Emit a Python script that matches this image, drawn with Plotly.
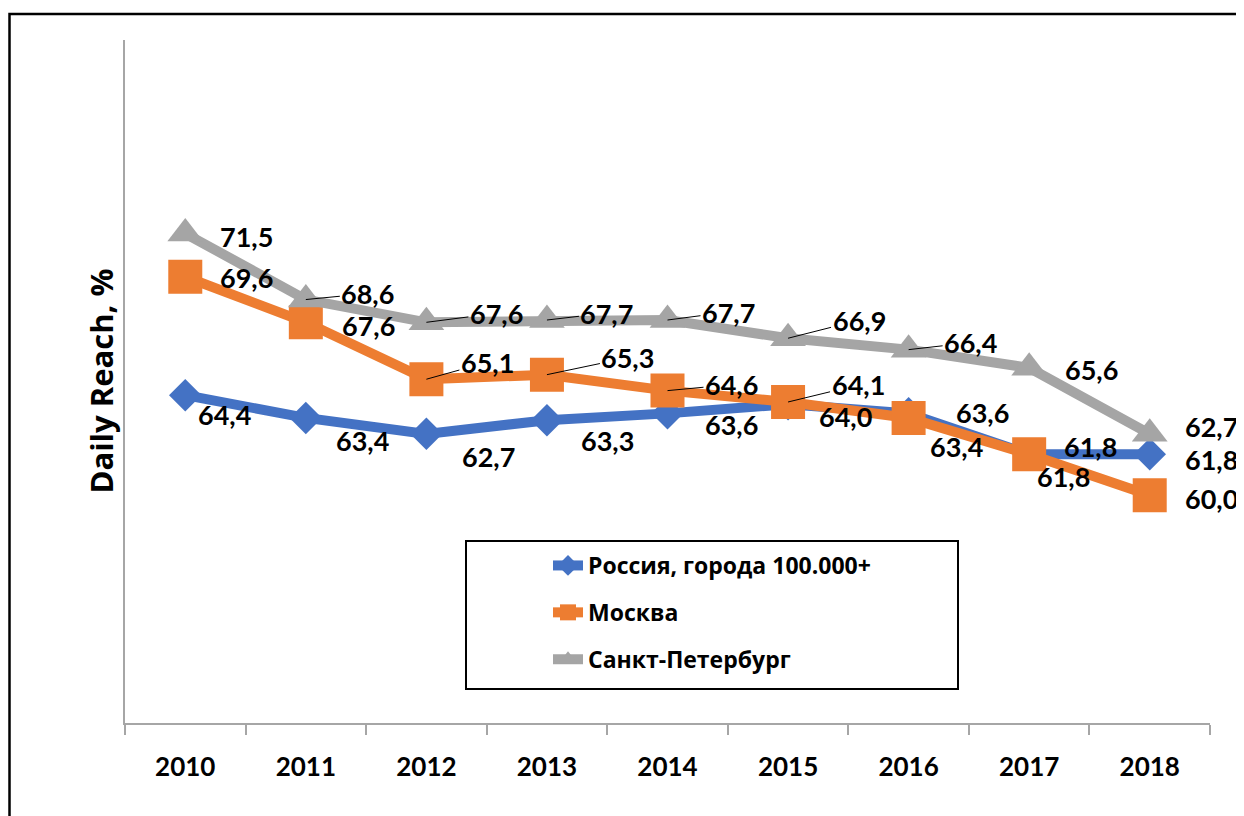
import plotly.graph_objects as go

years = ["2010", "2011", "2012", "2013", "2014", "2015", "2016", "2017", "2018"]
russia = [64.4, 63.4, 62.7, 63.3, 63.6, 64.0, 63.6, 61.8, 61.8]
moscow = [69.6, 67.6, 65.1, 65.3, 64.6, 64.1, 63.4, 61.8, 60.0]
spb = [71.5, 68.6, 67.6, 67.7, 67.7, 66.9, 66.4, 65.6, 62.7]

names = ["Россия, города 100.000+", "Москва", "Санкт-Петербург"]
colors = ["#4472C4", "#ED7D31", "#A5A5A5"]

# label offsets (px): (dx, dy downward, leader line)
off_russia = [(39, 19, 0), (57, 23, 0), (62, 23, 0), (61, 20, 0), (64, 11, 0),
              (57, 12, 0), (74, -1, 0), (61, -8, 0), (62, 5, 0)]
off_moscow = [(61, 1, 0), (63, 3, 0), (61, -17, 1), (81, -17, 1), (64, -6, 1),
              (70, -17, 1), (48, 29, 0), (34, 22, 0), (62, 3, 0)]
off_spb = [(61, 3, 0), (62, -6, 1), (70, -9, 1), (60, -7, 1), (61, -8, 1),
           (71, -18, 1), (62, -7, 1), (62, 2, 0), (62, -7, 0)]

NUMFONT = "Lato, 'Open Sans', sans-serif"
TXTFONT = "'Open Sans', 'Noto Sans', sans-serif"

fig = go.Figure()
series = [(russia, "diamond", 25), (moscow, "square", 34), (spb, "triangle-up", 31)]
for i, (vals, sym, sz) in enumerate(series):
    fig.add_trace(go.Scatter(
        x=years, y=vals, mode="lines+markers", name=names[i],
        legendgroup=str(i),
        line=dict(color=colors[i], width=10),
        marker=dict(symbol=sym, size=sz, color=colors[i]),
    ))

annotations = []
lab_font = dict(family=NUMFONT, size=27, color="#000", weight="bold")
for vals, offs in [(russia, off_russia), (moscow, off_moscow), (spb, off_spb)]:
    for xi, (v, (dx, dy, lead)) in enumerate(zip(vals, offs)):
        txt = f"{v:.1f}".replace(".", ",")
        if lead:
            annotations.append(dict(x=xi, y=v, xref="x", yref="y", text=txt,
                                    showarrow=True, arrowhead=0, arrowwidth=1,
                                    arrowcolor="#000000", ax=dx, ay=dy, font=lab_font))
        else:
            annotations.append(dict(x=xi, y=v, xref="x", yref="y", text=txt,
                                    showarrow=False, xshift=dx, yshift=-dy, font=lab_font))

annotations.append(dict(x=-0.023, y=0.5, xref="paper", yref="paper", text="Daily Reach, %",
                        textangle=-90, showarrow=False, xanchor="center", yanchor="middle",
                        font=dict(family=TXTFONT, size=31, color="#000", weight="bold")))

shapes = [
    dict(type="rect", xref="paper", yref="paper", x0=(1.5 - 117) / 1085, x1=1.05,
         y0=-0.2, y1=1.038,
         line=dict(color="#000000", width=2.5), fillcolor="rgba(0,0,0,0)", layer="below"),
    dict(type="rect", xref="paper", yref="paper",
         x0=(466 - 125) / 1085, x1=(958 - 125) / 1085,
         y0=(723 - 689) / 683, y1=(723 - 541) / 683,
         line=dict(color="#000000", width=2), fillcolor="white", layer="above"),
]

fig.update_layout(
    width=1236, height=808, autosize=False,
    margin=dict(l=117, r=34, t=32, b=93),
    paper_bgcolor="white", plot_bgcolor="white",
    showlegend=True,
    legend=dict(x=(548 - 125) / 1085, y=(723 - 544) / 683, xanchor="left", yanchor="top",
                bgcolor="rgba(0,0,0,0)", borderwidth=0, tracegroupgap=14,
                font=dict(family=TXTFONT, size=23, color="#000", weight="bold")),
    annotations=annotations,
    shapes=shapes,
)
fig.update_xaxes(type="category", range=[-0.5, 8.5], showline=True, linecolor="#A6A6A6",
                 linewidth=1.5, ticks="outside", tickson="boundaries", ticklen=10,
                 tickcolor="#A6A6A6", tickwidth=1.5, showgrid=False, zeroline=False,
                 ticklabelstandoff=20,
                 tickfont=dict(family=NUMFONT, size=26, color="#000", weight="bold"))
fig.update_yaxes(range=[50, 80], showline=True, linecolor="#A6A6A6", linewidth=1.5,
                 showticklabels=False, ticks="", showgrid=False, zeroline=False)

fig.write_html("out.html")
